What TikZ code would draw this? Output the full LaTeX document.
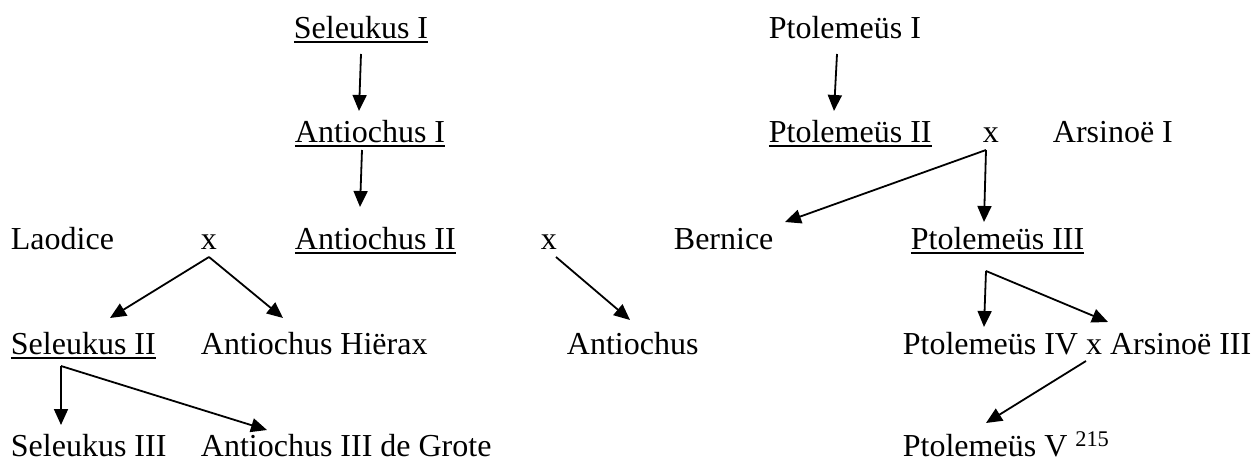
\documentclass[tikz,border=0pt]{standalone}
\usepackage{fontspec}
\setmainfont{Liberation Serif}
\usetikzlibrary{arrows.meta}
\newcommand{\uln}[1]{\setbox0\hbox{#1}\rlap{\rule[-4.5pt]{\wd0}{2.2pt}}\box0}

\begin{document}
\begin{tikzpicture}[
		x=1pt,y=-1pt,
		pers/.style={anchor=base west,inner sep=0pt,font=\fontsize{32}{38}\selectfont},
		wed/.style={pers},
		>={Triangle[length=16pt,width=14pt]},
		line width=1.8pt]
	\useasboundingbox (0,0) rectangle (1259,462);
	%% seleucids
	\node[pers] (sel1) at (293,39) {\uln{Seleukus I}};
	\node[pers] (ant1) at (294,143) {\uln{Antiochus I}};
	\node[pers] (lao) at (10,250) {Laodice};
	\node[wed] (xl) at (200,250) {x};
	\node[pers] (ant2) at (294,250) {\uln{Antiochus II}};
	\node[wed] (xb) at (540,250) {x};
	\node[pers] (sel2) at (10,355) {\uln{Seleukus II}};
	\node[pers] (hier) at (200,355) {Antiochus Hiërax};
	\node[pers] (antch) at (566,355) {Antiochus};
	\node[pers] (sel3) at (10,456) {Seleukus III};
	\node[pers] (ant3) at (200,456) {Antiochus III de Grote};
	%% ptolemies
	\node[pers] (ptol1) at (768,39) {Ptolemeüs I};
	\node[pers] (ptol2) at (768,143) {\uln{Ptolemeüs II}};
	\node[wed] (xa) at (982,143) {x};
	\node[pers] (ars1) at (1052,143) {Arsinoë I};
	\node[pers] (ber) at (673,250) {Bernice};
	\node[pers] (ptol3) at (910,250) {\uln{Ptolemeüs III}};
	\node[pers] (ptol4) at (902,355) {Ptolemeüs IV x Arsinoë III};
	\node[pers] (ptol5) at (902,456) {Ptolemeüs V~\textsuperscript{215}};
	%% arrows
	\draw[->] ([shift={(68,15)}]sel1.base west) -- ([shift={(65,-32)}]ant1.base west);
	\draw[->] ([shift={(68,7)}]ant1.base west) -- ([shift={(66,-43)}]ant2.base west);
	\draw[->] ([shift={(9,7)}]xl.base west) -- ([shift={(100,-37)}]sel2.base west);
	\draw[->] ([shift={(9,7)}]xl.base west) -- ([shift={(83,-37)}]hier.base west);
	\draw[->] ([shift={(16,7)}]xb.base west) -- ([shift={(64,-35)}]antch.base west);
	\draw[->] ([shift={(51,11)}]sel2.base west) -- ([shift={(51,-31)}]sel3.base west);
	\draw[->] ([shift={(51,11)}]sel2.base west) -- ([shift={(67,-26)}]ant3.base west);
	\draw[->] ([shift={(69,15)}]ptol1.base west) -- ([shift={(66,-32)}]ptol2.base west);
	\draw[->] ([shift={(4,7)}]xa.base west) -- ([shift={(112,-28)}]ber.base west);
	\draw[->] ([shift={(4,7)}]xa.base west) -- ([shift={(74,-28)}]ptol3.base west);
	\draw[->] ([shift={(76,21)}]ptol3.base west) -- ([shift={(82,-28)}]ptol4.base west);
	\draw[->] ([shift={(76,21)}]ptol3.base west) -- ([shift={(206,-33)}]ptol4.base west);
	\draw[->] ([shift={(184,6)}]ptol4.base west) -- ([shift={(84,-33)}]ptol5.base west);
\end{tikzpicture}
\end{document}
